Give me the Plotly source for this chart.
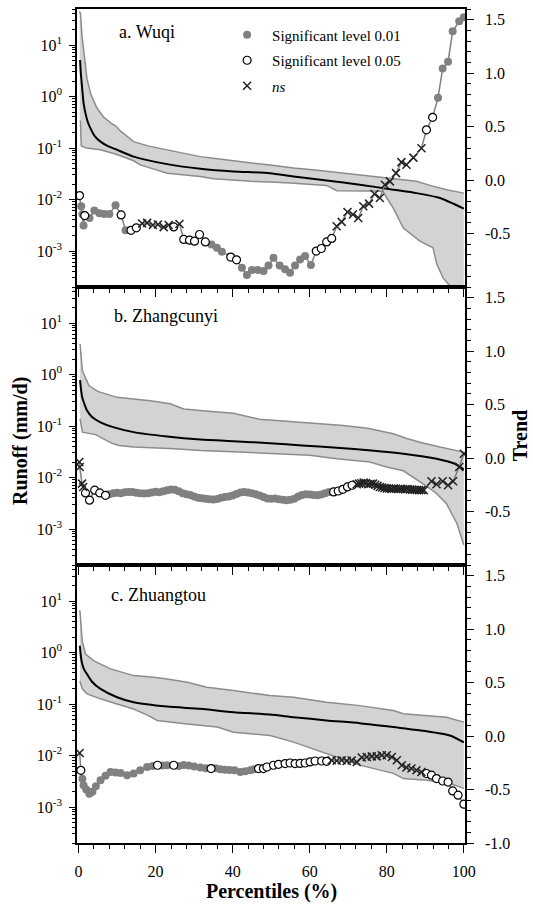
import plotly.graph_objects as go
from plotly.subplots import make_subplots

FONT = "Liberation Serif"

# ---------------- Panel a: Wuqi ----------------
a_up_pct = [0.3, 0.5, 0.9, 1.4, 2.2, 3.2, 4.8, 6.5, 8.5, 9.6, 11, 14.3, 18, 23, 27, 31.6, 36, 40.2, 45, 49.7, 55.8, 62, 68.7, 74, 80, 84, 87.7, 91, 95.5, 100]
a_up_val = [45, 40, 15, 7.3, 2.2, 1.1, 0.59, 0.4, 0.3, 0.27, 0.21, 0.133, 0.11, 0.092, 0.08, 0.068, 0.062, 0.056, 0.051, 0.047, 0.041, 0.037, 0.0325, 0.03, 0.0268, 0.0245, 0.0225, 0.019, 0.0155, 0.0133]
a_lo_pct = [0.3, 0.5, 0.7, 2, 5.7, 10, 14.3, 16, 20, 23, 31.6, 35, 40, 44.6, 49.7, 55, 64.4, 67, 75, 79, 80, 81.7, 84.3, 88.6, 92, 93, 94.6, 96.4, 98, 100]
a_lo_val = [0.33, 0.33, 0.11, 0.1, 0.092, 0.075, 0.0565, 0.047, 0.038, 0.0325, 0.028, 0.0253, 0.024, 0.0225, 0.0218, 0.021, 0.0188, 0.0148, 0.0146, 0.0144, 0.0107, 0.0068, 0.0028, 0.00155, 0.00115, 0.00055, 0.0003, 0.00021, 0.00012, 0.0001]
a_med_pct = [0.4, 0.6, 0.95, 1.3, 1.8, 2.4, 3.1, 4.2, 5.7, 7.5, 10, 14.3, 23, 31.6, 40.2, 49.7, 55.8, 64.4, 73, 81.7, 87.7, 93.8, 100]
a_med_val = [5.1, 2.8, 1.43, 0.75, 0.47, 0.32, 0.24, 0.17, 0.133, 0.11, 0.092, 0.068, 0.0486, 0.0395, 0.035, 0.0325, 0.028, 0.0235, 0.0194, 0.0155, 0.0133, 0.0107, 0.00665]
a_tr_pct = [0.26, 0.7, 1.0, 1.3, 1.6, 2.85, 4.1, 5.4, 6.7, 8.0, 9.6, 11.05, 12.2, 13.6, 15.0, 16.5, 17.8, 19.3, 20.6, 22.1, 23.4, 24.7, 26.2, 27.3, 28.8, 30.1, 31.4, 32.9, 34.5, 35.9, 37.2, 39.5, 41.0, 42.4, 43.7, 45.0, 46.5, 48.0, 49.3, 50.6, 52.2, 53.6, 54.9, 56.2, 57.5, 58.8, 60.3, 61.7, 63.0, 64.4, 65.7, 67.0, 68.3, 69.8, 71.2, 72.6, 73.9, 75.4, 76.8, 78.2, 79.5, 80.8, 82.4, 83.8, 85.1, 86.9, 89.0, 90.3, 91.9, 93.3, 94.5, 95.9, 97.1, 98.8, 100]
a_tr_val = [-0.145, -0.245, -0.32, -0.425, -0.332, -0.354, -0.285, -0.31, -0.317, -0.317, -0.236, -0.326, -0.47, -0.47, -0.447, -0.406, -0.40, -0.42, -0.416, -0.44, -0.42, -0.438, -0.41, -0.555, -0.562, -0.571, -0.509, -0.578, -0.602, -0.634, -0.671, -0.72, -0.746, -0.82, -0.888, -0.84, -0.84, -0.85, -0.80, -0.727, -0.80, -0.835, -0.867, -0.80, -0.742, -0.711, -0.795, -0.664, -0.64, -0.578, -0.546, -0.431, -0.391, -0.298, -0.322, -0.354, -0.245, -0.22, -0.13, -0.168, -0.043, -0.012, 0.065, 0.168, 0.143, 0.21, 0.298, 0.47, 0.587, 0.77, 1.044, 1.106, 1.392, 1.485, 1.523]
a_tr_sig = ["o", "f", "f", "f", "o", "f", "f", "f", "f", "f", "f", "o", "f", "o", "o", "x", "x", "x", "x", "x", "x", "o", "x", "o", "o", "o", "o", "o", "f", "f", "f", "o", "o", "f", "f", "f", "f", "f", "f", "f", "f", "f", "f", "f", "f", "f", "f", "o", "o", "o", "o", "x", "x", "x", "x", "x", "x", "x", "x", "x", "x", "x", "x", "x", "x", "x", "x", "o", "o", "f", "f", "f", "f", "f", "f"]

# ---------------- Panel b: Zhangcunyi ----------------
b_up_pct = [0.4, 0.7, 1.0, 2.7, 5, 10, 18.6, 23.8, 27.3, 33, 40.2, 47, 49.7, 55.8, 62, 68.7, 75, 81.7, 85, 88.6, 93.8, 100]
b_up_val = [3.9, 1.8, 1.18, 0.61, 0.47, 0.36, 0.31, 0.27, 0.214, 0.195, 0.177, 0.135, 0.13, 0.122, 0.11, 0.102, 0.09, 0.0705, 0.058, 0.0485, 0.039, 0.0311]
b_lo_pct = [0.4, 1.0, 4.4, 5.7, 8.7, 10.5, 14.3, 25, 31.6, 40.2, 51, 60, 67, 75.6, 80, 84.3, 90.3, 92.9, 95.5, 98.2, 100]
b_lo_val = [0.137, 0.076, 0.068, 0.061, 0.046, 0.042, 0.039, 0.036, 0.0335, 0.0316, 0.0295, 0.027, 0.0232, 0.02, 0.016, 0.0135, 0.0068, 0.0049, 0.0031, 0.00128, 0.00049]
b_med_pct = [0.4, 0.6, 0.95, 1.5, 2.2, 3.5, 5.7, 9, 14.3, 23, 31.6, 40.2, 49.7, 58, 67, 76, 84.3, 92.9, 97.7, 100]
b_med_val = [0.78, 0.55, 0.36, 0.27, 0.2, 0.15, 0.118, 0.095, 0.076, 0.0625, 0.0547, 0.0507, 0.0465, 0.042, 0.0378, 0.0335, 0.029, 0.0232, 0.0185, 0.0142]
b_tr_pct = [0.2, 0.3, 0.9, 1.2, 1.8, 2.85, 4.2, 5.5, 7.0,
            8, 9, 10, 11, 12, 13, 14, 15, 16, 17, 18, 19, 20, 21, 22, 23, 24, 25, 26, 27, 28, 29, 30, 31, 32, 33, 34, 35, 36, 37, 38, 39, 40, 41, 42, 43, 44, 45, 46, 47, 48, 49, 50, 51, 52, 53, 54, 55, 56, 57, 58, 59, 60, 61, 62, 63, 64, 65,
            66.2, 67.4, 68.6, 69.8, 71.0,
            72.2, 72.8, 73.4, 74.0, 74.6, 75.2, 75.8, 76.4, 77.0, 77.6, 78.2, 78.8, 79.4, 80.0, 80.6, 81.2, 81.8, 82.4, 83.0, 83.6, 84.2, 84.8, 85.4, 86.0, 86.6, 87.2, 87.8, 88.4, 89.0, 89.6,
            91.6, 92.9, 94.5, 95.9, 97.2, 98.8, 100]
b_tr_val = [-0.037, -0.084, -0.239, -0.27, -0.326, -0.394, -0.30, -0.326, -0.348,
            -0.338, -0.33, -0.325, -0.33, -0.32, -0.318, -0.317, -0.325, -0.33, -0.332, -0.33, -0.322, -0.315, -0.32, -0.31, -0.30, -0.295, -0.297, -0.31, -0.33, -0.338, -0.345, -0.36, -0.37, -0.375, -0.38, -0.385, -0.388, -0.383, -0.37, -0.363, -0.36, -0.35, -0.335, -0.322, -0.317, -0.322, -0.33, -0.338, -0.35, -0.365, -0.378, -0.38, -0.378, -0.385, -0.39, -0.394, -0.39, -0.38, -0.36, -0.345, -0.338, -0.34, -0.345, -0.348, -0.34, -0.33, -0.317,
            -0.317, -0.308, -0.292, -0.27, -0.254,
            -0.245, -0.239, -0.235, -0.229, -0.233, -0.245, -0.24, -0.239, -0.25, -0.26, -0.27, -0.275, -0.28, -0.285, -0.285, -0.288, -0.285, -0.287, -0.29, -0.288, -0.29, -0.292, -0.29, -0.293, -0.295, -0.296, -0.298, -0.30, -0.30, -0.30,
            -0.217, -0.245, -0.217, -0.254, -0.217, -0.084, 0.041]
b_tr_sig = ["x", "x", "x", "x", "o", "o", "o", "o", "o"] + ["f"] * 58 + ["o"] * 5 + ["x"] * 30 + ["x"] * 7

# ---------------- Panel c: Zhuangtou ----------------
c_up_pct = [0.35, 0.6, 0.95, 1.8, 4, 8.3, 14.3, 19.5, 23, 28.2, 33.3, 40.2, 49.7, 55.8, 64.4, 73, 81.7, 84.3, 90.3, 95.5, 100]
c_up_val = [6.6, 3.0, 1.7, 0.93, 0.69, 0.48, 0.356, 0.33, 0.306, 0.264, 0.211, 0.182, 0.146, 0.135, 0.108, 0.093, 0.0746, 0.0646, 0.0598, 0.0555, 0.0445]
c_lo_pct = [0.35, 0.95, 2.2, 5.7, 10, 14.3, 18, 20.4, 28.2, 36, 40.2, 49.7, 55.8, 64.4, 73, 81.7, 84.3, 90.3, 96.4, 100]
c_lo_val = [0.28, 0.2, 0.157, 0.126, 0.1, 0.08, 0.06, 0.048, 0.041, 0.0356, 0.0284, 0.0245, 0.0182, 0.0108, 0.0065, 0.0045, 0.00356, 0.0033, 0.00285, 0.0023]
c_med_pct = [0.35, 0.6, 0.95, 1.5, 2.2, 3.5, 5.7, 10, 14.3, 23, 31.6, 40.2, 49.7, 55.8, 64.4, 73, 81.7, 90.3, 96.4, 100]
c_med_val = [1.35, 0.85, 0.6, 0.46, 0.38, 0.27, 0.196, 0.135, 0.108, 0.089, 0.0805, 0.0693, 0.0625, 0.0555, 0.0479, 0.0425, 0.0356, 0.0297, 0.0245, 0.018]
c_tr_pct = [0.3, 0.6, 1.0, 1.3, 2.0, 2.8, 3.6, 4.5, 5.7, 7.0, 8.3, 9.6, 10.9, 12.6, 14.3, 16.0, 17.8, 19.2, 20.5, 21.8, 23.0, 24.7, 26.0, 27.3, 28.6, 30.0, 31.6, 33.0, 34.4, 35.6, 36.8, 38.0, 39.2, 40.5, 42.0, 43.3, 44.6, 45.5, 46.7, 48.0,
            48.9, 50.6, 51.9, 53.6, 54.9, 56.2, 57.5, 58.8, 60.1, 61.4, 63.1, 64.4,
            65.7, 67.0, 68.3, 69.6, 70.9, 72.2, 73.5, 74.8, 76.1, 77.4, 78.7, 80.0, 81.3, 82.6, 83.9, 85.1, 86.4, 87.7, 89.0,
            90.3, 91.6, 92.9, 94.5, 95.9, 97.1, 98.5, 100]
c_tr_val = [-0.158, -0.32, -0.40, -0.46, -0.50, -0.54, -0.52, -0.47, -0.413, -0.37, -0.336, -0.34, -0.345, -0.366, -0.35, -0.32, -0.289, -0.28, -0.273, -0.275, -0.273, -0.273, -0.28, -0.27, -0.275, -0.285, -0.294, -0.30, -0.304, -0.30, -0.31, -0.315, -0.318, -0.32, -0.336, -0.33, -0.32, -0.31, -0.304, -0.304,
            -0.289, -0.273, -0.264, -0.257, -0.252, -0.257, -0.256, -0.252, -0.242, -0.233, -0.233, -0.236,
            -0.226, -0.23, -0.226, -0.232, -0.228, -0.242, -0.201, -0.196, -0.19, -0.19, -0.18, -0.18, -0.196, -0.226, -0.273, -0.294, -0.304, -0.32, -0.336,
            -0.35, -0.366, -0.397, -0.42, -0.43, -0.513, -0.553, -0.637]
c_tr_sig = ["x", "o"] + ["f"] * 16 + ["o", "f", "f", "o", "f", "f", "f", "f", "f", "f", "o", "f", "f", "f", "f", "f", "f", "f", "f", "f", "o", "o"] + ["o"] * 12 + ["x"] * 19 + ["o"] * 8

x_ticks = [0, 20, 40, 60, 80, 100]
log_ticks = [1e-3, 1e-2, 1e-1, 1, 10]
log_labels = ["10<sup>-3</sup>", "10<sup>-2</sup>", "10<sup>-1</sup>", "10<sup>0</sup>", "10<sup>1</sup>"]
panel_names = ["a. Wuqi", "b. Zhangcunyi", "c. Zhuangtou"]
legend_names = {"f": "Significant level 0.01", "o": "Significant level 0.05", "x": "<i>ns</i>"}

panels = [
    (a_up_pct, a_up_val, a_lo_pct, a_lo_val, a_med_pct, a_med_val, a_tr_pct, a_tr_val, a_tr_sig),
    (b_up_pct, b_up_val, b_lo_pct, b_lo_val, b_med_pct, b_med_val, b_tr_pct, b_tr_val, b_tr_sig),
    (c_up_pct, c_up_val, c_lo_pct, c_lo_val, c_med_pct, c_med_val, c_tr_pct, c_tr_val, c_tr_sig),
]

fig = make_subplots(rows=3, cols=1, shared_xaxes=True, vertical_spacing=0,
                    specs=[[{"secondary_y": True}]] * 3)

marker_styles = {
    "f": dict(symbol="circle", size=8, color="#808080", line=dict(width=0)),
    "o": dict(symbol="circle", size=8, color="white", line=dict(color="black", width=1.2)),
    "x": dict(symbol="x-thin", size=8, color="#222222", line=dict(color="#222222", width=1.5)),
}

for i, (upx, upy, lox, loy, mx, my, tx, ty, ts) in enumerate(panels):
    row = i + 1
    fig.add_trace(go.Scatter(x=upx + lox[::-1], y=upy + loy[::-1], fill="toself",
                             fillcolor="#d3d3d3", line=dict(width=0), mode="lines",
                             showlegend=False, hoverinfo="skip"), row=row, col=1, secondary_y=False)
    fig.add_trace(go.Scatter(x=upx, y=upy, mode="lines", line=dict(color="#8c8c8c", width=1.5),
                             showlegend=False), row=row, col=1, secondary_y=False)
    fig.add_trace(go.Scatter(x=lox, y=loy, mode="lines", line=dict(color="#8c8c8c", width=1.5),
                             showlegend=False), row=row, col=1, secondary_y=False)
    fig.add_trace(go.Scatter(x=mx, y=my, mode="lines", line=dict(color="black", width=2, shape="spline", smoothing=0.6),
                             showlegend=False), row=row, col=1, secondary_y=False)
    fig.add_trace(go.Scatter(x=tx, y=ty, mode="lines", line=dict(color="#808080", width=1.5),
                             showlegend=False), row=row, col=1, secondary_y=True)
    for k in ["f", "o", "x"]:
        xs = [x for x, s in zip(tx, ts) if s == k]
        ys = [y for y, s in zip(ty, ts) if s == k]
        fig.add_trace(go.Scatter(x=xs, y=ys, mode="markers", marker=marker_styles[k],
                                 name=legend_names[k], legendgroup=k, showlegend=(row == 1)),
                      row=row, col=1, secondary_y=True)

axis_font = dict(family=FONT, size=16, color="black")
for row in range(1, 4):
    fig.update_xaxes(row=row, col=1, domain=[0, 1], range=[-0.4, 100.3], tickvals=x_ticks, showline=True,
                     linecolor="black", linewidth=1.5, mirror=True, ticks="outside", ticklen=8, tickwidth=1.2,
                     tickcolor="black",
                     minor=dict(ticks="outside", dtick=4, tick0=0, ticklen=4, tickcolor="black", tickwidth=1),
                     showgrid=False, zeroline=False, tickfont=axis_font, ticklabelstandoff=5,
                     showticklabels=(row == 3))
    fig.update_yaxes(row=row, col=1, secondary_y=False, type="log", range=[-3.699, 1.699],
                     tickvals=log_ticks, ticktext=log_labels, showline=True, linecolor="black", linewidth=1.5,
                     ticks="outside", ticklen=6, tickwidth=1.2, tickcolor="black",
                     minor=dict(ticks="outside", ticklen=3, tickcolor="black", tickwidth=1, dtick="D1"),
                     showgrid=False, zeroline=False, tickfont=axis_font, ticklabelstandoff=4)
    rt = [-0.5, 0.0, 0.5, 1.0, 1.5] if row < 3 else [-1.0, -0.5, 0.0, 0.5, 1.0, 1.5]
    fig.update_yaxes(row=row, col=1, secondary_y=True, range=[-1.0, 1.6], tickvals=rt,
                     ticktext=[("-" if v < 0 else "") + "%.1f" % abs(v) for v in rt],
                     showline=True, linecolor="black", linewidth=1.5,
                     ticks="outside", ticklen=7, tickwidth=1.2, tickcolor="black",
                     minor=dict(ticks="outside", dtick=0.1, tick0=0, ticklen=4, tickcolor="black", tickwidth=1),
                     showgrid=False, zeroline=False, tickfont=axis_font, ticklabelstandoff=8)

annotations = []
label_pos = [(0.103, 0.9725), (0.090, 0.632), (0.082, 0.297)]
for name, (ax, ay) in zip(panel_names, label_pos):
    annotations.append(dict(text=name, xref="paper", yref="paper", x=ax, y=ay, xanchor="left", yanchor="middle",
                            showarrow=False, font=dict(family=FONT, size=18, color="black")))
annotations.append(dict(text="<b>Runoff (mm/d)</b>", xref="paper", yref="paper", x=-0.147, y=0.482,
                        textangle=-90, showarrow=False, xanchor="center", yanchor="middle",
                        font=dict(family=FONT, size=20, color="black")))
annotations.append(dict(text="<b>Trend</b>", xref="paper", yref="paper", x=1.142, y=0.489,
                        textangle=-90, showarrow=False, xanchor="center", yanchor="middle",
                        font=dict(family=FONT, size=20, color="black")))
annotations.append(dict(text="<b>Percentiles (%)</b>", xref="paper", yref="paper", x=0.5, y=-0.0586,
                        showarrow=False, xanchor="center", yanchor="middle",
                        font=dict(family=FONT, size=20, color="black")))

fig.update_layout(
    width=533, height=907,
    margin=dict(l=77, r=68, t=7, b=64),
    paper_bgcolor="white", plot_bgcolor="white",
    font=dict(family=FONT, color="black"),
    annotations=annotations,
    legend=dict(x=0.374, y=0.9886, xanchor="left", yanchor="top", bgcolor="rgba(0,0,0,0)",
                font=dict(family=FONT, size=15, color="black"), traceorder="grouped", tracegroupgap=3,
                itemwidth=40),
)

fig.write_html("out.html")
